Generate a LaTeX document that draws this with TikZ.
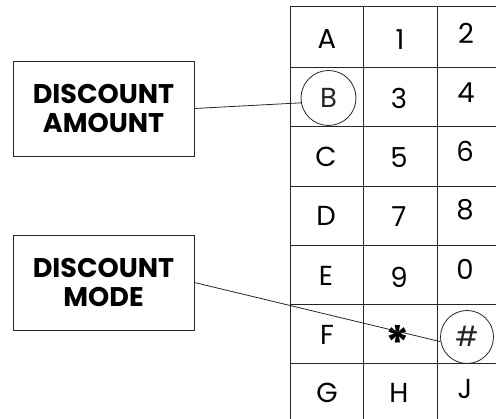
\documentclass[tikz,border=0pt]{standalone}
\usepackage{fontspec}
\newfontfamily\gridfont{Poppins}
\newfontfamily\labfont{Poppins}
\begin{document}
\begin{tikzpicture}[x=1pt,y=1pt,
  gridline/.style={line width=0.8pt, black!85},
  celltxt/.style={inner sep=0pt, text height=19pt, text depth=0pt, font=\gridfont\fontsize{27.5}{30}\selectfont},
  ring/.style={celltxt, circle, draw, line width=0.8pt, black!85},
  labelbox/.style={draw, line width=0.8pt, black!85, minimum width=181pt, minimum height=95pt, align=center, text=black,
    font=\labfont\bfseries\fontsize{27}{28.5}\selectfont},
  conn/.style={line width=0.8pt, black!85}]
\useasboundingbox (0,0) rectangle (496,-419);
\begin{scope}
\clip (0,0) rectangle (496,-419);
% grid lines
\foreach \x in {290,363,437} \draw[gridline] (\x,-6) -- (\x,-430);
\foreach \y in {6,67,126,186,245,304,363} \draw[gridline] (290,-\y) -- (510,-\y);
% column 1
\node[celltxt] (cA) at (327,-39) {A};
\node[ring, minimum size=55pt] (cB) at (328.5,-98) {B};
\node[celltxt] (cC) at (326,-157) {C};
\node[celltxt] (cD) at (326,-216) {D};
\node[celltxt] (cE) at (326,-276) {E};
\node[celltxt] (cF) at (327,-335) {F};
\node[celltxt] (cG) at (327,-393) {G};
% column 2
\node[celltxt] (c1) at (400,-40) {1};
\node[celltxt] (c3) at (399,-99) {3};
\node[celltxt] (c5) at (399,-158) {5};
\node[celltxt] (c7) at (399,-217) {7};
\node[celltxt] (c9) at (399,-278) {9};
\node[inner sep=0pt, anchor=base, font=\gridfont\bfseries\fontsize{46}{48}\selectfont] (cstar) at (398,-360) {*};
\node[celltxt] (cH) at (399,-393) {H};
% column 3
\node[celltxt] (c2) at (466,-34) {2};
\node[celltxt] (c4) at (466,-93) {4};
\node[celltxt] (c6) at (465,-152) {6};
\node[celltxt] (c8) at (465,-210) {8};
\node[celltxt] (c0) at (465,-270) {0};
\node[ring, minimum size=53pt] (cHash) at (467,-337) {\#};
\node[celltxt] (cJ) at (465,-389) {J};
% labels
\node[labelbox] (amt) at (103.5,-108.5) {DISCOUNT\\AMOUNT};
\node[labelbox] (mode) at (103.5,-282.5) {DISCOUNT\\MODE};
% connectors
\draw[conn] (amt.east) -- (cB.190);
\draw[conn] (mode.east) -- (cHash.190);
\end{scope}
\end{tikzpicture}
\end{document}
